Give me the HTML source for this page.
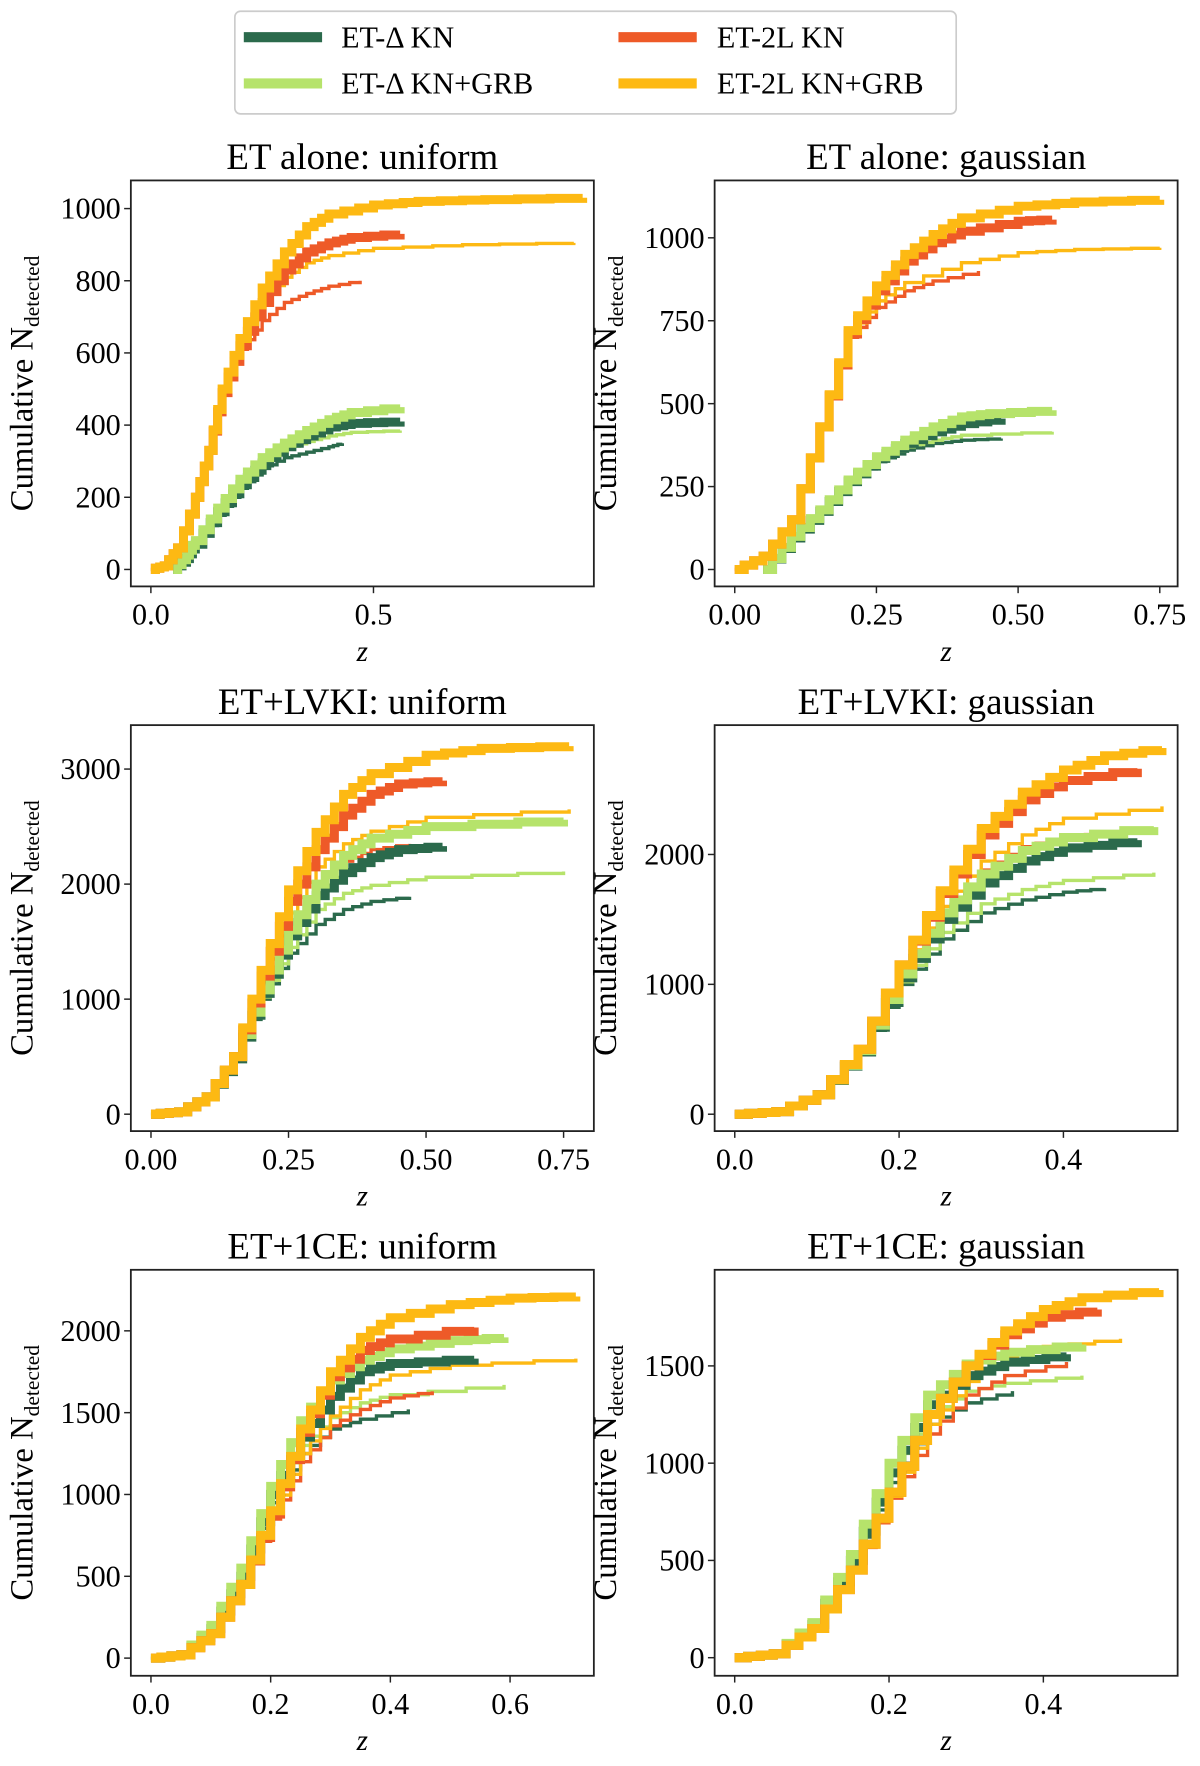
<!DOCTYPE html>
<html><head><meta charset="utf-8">
<style>
html,body{margin:0;padding:0;background:#fff;}
svg{display:block;font-family:"Liberation Serif","DejaVu Serif",serif;}
</style></head>
<body>
<svg id="fig" width="1200" height="1766" viewBox="0 0 1073 1566" preserveAspectRatio="none" xmlns="http://www.w3.org/2000/svg">
<g>
<rect x="210" y="10" width="645" height="91" rx="5" fill="#fff" stroke="#ccc" stroke-width="1.5"/>
<g><line x1="218" y1="33" x2="288" y2="33" stroke="#2b6a4c" stroke-width="9"/><text x="305" y="42" font-size="27">ET-Δ KN</text></g>
<g><line x1="218" y1="74" x2="288" y2="74" stroke="#b6e36b" stroke-width="9"/><text x="305" y="83" font-size="27">ET-Δ KN+GRB</text></g>
<g><line x1="553" y1="33" x2="623" y2="33" stroke="#ee5a28" stroke-width="9"/><text x="641" y="42" font-size="27">ET-2L KN</text></g>
<g><line x1="553" y1="74" x2="623" y2="74" stroke="#fdb913" stroke-width="9"/><text x="641" y="83" font-size="27">ET-2L KN+GRB</text></g>
</g>
</svg>
<script>
const p1_dg_thick=[[0.05,0],[0.08,30],[0.1,70],[0.15,160],[0.2,235],[0.25,295],[0.3,340],[0.35,370],[0.4,395],[0.45,405],[0.56,410]];
const p1_dg_thin=[[0.05,0],[0.08,30],[0.1,65],[0.15,150],[0.2,225],[0.25,280],[0.3,310],[0.35,325],[0.4,340],[0.43,350]];
const p1_lg_thick=[[0.05,0],[0.08,40],[0.1,80],[0.15,170],[0.2,250],[0.25,310],[0.3,350],[0.35,385],[0.4,415],[0.45,435],[0.56,450]];
const p1_lg_thin=[[0.05,0],[0.08,35],[0.1,75],[0.15,160],[0.2,240],[0.25,300],[0.3,335],[0.35,355],[0.4,370],[0.45,380],[0.56,385]];
const p1_rd_thick=[[0,0],[0.03,10],[0.06,60],[0.1,200],[0.13,330],[0.16,490],[0.2,620],[0.25,740],[0.3,830],[0.35,880],[0.4,905],[0.45,920],[0.56,930]];
const p1_rd_thin=[[0,0],[0.03,10],[0.06,60],[0.1,200],[0.13,330],[0.16,490],[0.2,610],[0.25,690],[0.3,740],[0.35,765],[0.4,785],[0.47,800]];
const p1_or_thick=[[0,0],[0.03,10],[0.06,60],[0.1,200],[0.13,330],[0.16,500],[0.2,640],[0.25,780],[0.3,880],[0.35,950],[0.4,985],[0.5,1010],[0.6,1020],[0.75,1025],[0.97,1030]];
const p1_or_thin=[[0,0],[0.03,10],[0.06,60],[0.1,200],[0.13,330],[0.16,500],[0.2,630],[0.25,740],[0.3,810],[0.35,850],[0.4,870],[0.5,890],[0.7,900],[0.95,905]];

const p2_dg_thick=[[0.05,0],[0.1,95],[0.15,175],[0.2,265],[0.25,335],[0.3,380],[0.35,415],[0.4,440],[0.47,455]];
const p2_dg_thin=[[0.05,0],[0.1,95],[0.15,175],[0.2,260],[0.25,325],[0.3,360],[0.35,380],[0.4,390],[0.47,395]];
const p2_lg_thick=[[0.05,0],[0.1,100],[0.15,180],[0.2,270],[0.25,340],[0.3,390],[0.35,430],[0.4,460],[0.45,470],[0.56,480]];
const p2_lg_thin=[[0.05,0],[0.1,100],[0.15,180],[0.2,265],[0.25,330],[0.3,370],[0.35,390],[0.4,405],[0.56,415]];
const p2_rd_thick=[[0,0],[0.05,40],[0.1,150],[0.15,430],[0.2,710],[0.25,840],[0.3,930],[0.35,985],[0.4,1020],[0.5,1050],[0.56,1055]];
const p2_rd_thin=[[0,0],[0.05,40],[0.1,150],[0.15,430],[0.2,700],[0.25,790],[0.3,840],[0.35,870],[0.43,900]];
const p2_or_thick=[[0,0],[0.05,40],[0.1,150],[0.15,430],[0.2,720],[0.25,855],[0.3,950],[0.35,1010],[0.4,1060],[0.5,1095],[0.6,1108],[0.75,1115]];
const p2_or_thin=[[0,0],[0.05,40],[0.1,150],[0.15,430],[0.2,710],[0.25,810],[0.3,865],[0.4,925],[0.5,955],[0.6,965],[0.75,970]];

const p3_dg_thick=[[0,0],[0.05,20],[0.1,150],[0.15,480],[0.2,1050],[0.25,1550],[0.3,1900],[0.35,2100],[0.4,2230],[0.45,2300],[0.53,2330]];
const p3_dg_thin=[[0,0],[0.05,20],[0.1,150],[0.15,470],[0.2,1000],[0.25,1400],[0.3,1650],[0.35,1780],[0.4,1850],[0.47,1890]];
const p3_lg_thick=[[0,0],[0.05,20],[0.1,150],[0.15,500],[0.2,1080],[0.25,1600],[0.3,2000],[0.35,2250],[0.4,2400],[0.5,2500],[0.75,2560]];
const p3_lg_thin=[[0,0],[0.05,20],[0.1,150],[0.15,480],[0.2,1020],[0.25,1450],[0.3,1780],[0.35,1920],[0.4,1990],[0.5,2060],[0.75,2110]];
const p3_rd_thick=[[0,0],[0.05,20],[0.1,150],[0.15,500],[0.2,1200],[0.25,1850],[0.3,2300],[0.35,2600],[0.4,2780],[0.45,2870],[0.53,2900]];
const p3_rd_thin=[[0,0],[0.05,20],[0.1,150],[0.15,490],[0.2,1100],[0.25,1600],[0.3,2000],[0.35,2200],[0.4,2300],[0.47,2350]];
const p3_or_thick=[[0,0],[0.05,20],[0.1,150],[0.15,500],[0.2,1250],[0.25,1950],[0.3,2450],[0.35,2780],[0.4,2960],[0.5,3120],[0.6,3180],[0.76,3200]];
const p3_or_thin=[[0,0],[0.05,20],[0.1,150],[0.15,500],[0.2,1150],[0.25,1750],[0.3,2150],[0.35,2350],[0.4,2460],[0.5,2580],[0.76,2650]];

const p4_dg_thick=[[0,0],[0.05,20],[0.1,150],[0.15,480],[0.2,1050],[0.25,1500],[0.3,1780],[0.35,1950],[0.4,2050],[0.49,2110]];
const p4_dg_thin=[[0,0],[0.05,20],[0.1,150],[0.15,470],[0.2,1000],[0.25,1350],[0.3,1550],[0.35,1650],[0.4,1710],[0.45,1740]];
const p4_lg_thick=[[0,0],[0.05,20],[0.1,150],[0.15,490],[0.2,1080],[0.25,1550],[0.3,1850],[0.35,2030],[0.4,2130],[0.51,2210]];
const p4_lg_thin=[[0,0],[0.05,20],[0.1,150],[0.15,480],[0.2,1020],[0.25,1400],[0.3,1620],[0.35,1730],[0.4,1800],[0.51,1860]];
const p4_rd_thick=[[0,0],[0.05,20],[0.1,150],[0.15,500],[0.2,1150],[0.25,1700],[0.3,2150],[0.35,2420],[0.4,2570],[0.49,2660]];
const p4_rd_thin=[[0,0],[0.05,20],[0.1,150],[0.15,490],[0.2,1080],[0.25,1550],[0.3,1880],[0.35,2060],[0.4,2140],[0.48,2180]];
const p4_or_thick=[[0,0],[0.05,20],[0.1,150],[0.15,500],[0.2,1150],[0.25,1720],[0.3,2200],[0.35,2480],[0.4,2650],[0.45,2760],[0.52,2820]];
const p4_or_thin=[[0,0],[0.05,20],[0.1,150],[0.15,490],[0.2,1100],[0.25,1600],[0.3,1950],[0.35,2150],[0.4,2280],[0.52,2370]];

const p5_dg_thick=[[0,0],[0.05,20],[0.1,180],[0.15,500],[0.2,1000],[0.25,1350],[0.3,1600],[0.35,1750],[0.4,1800],[0.54,1830]];
const p5_dg_thin=[[0,0],[0.05,20],[0.1,170],[0.15,480],[0.2,950],[0.25,1250],[0.3,1400],[0.35,1460],[0.43,1520]];
const p5_lg_thick=[[0,0],[0.05,20],[0.1,200],[0.15,550],[0.2,1050],[0.25,1450],[0.3,1700],[0.35,1820],[0.4,1890],[0.5,1940],[0.59,1960]];
const p5_lg_thin=[[0,0],[0.05,20],[0.1,190],[0.15,520],[0.2,980],[0.25,1300],[0.3,1470],[0.35,1560],[0.4,1610],[0.59,1670]];
const p5_rd_thick=[[0,0],[0.05,20],[0.1,150],[0.15,450],[0.2,880],[0.25,1380],[0.3,1720],[0.35,1880],[0.4,1950],[0.54,2020]];
const p5_rd_thin=[[0,0],[0.05,20],[0.1,150],[0.15,440],[0.2,850],[0.25,1200],[0.3,1420],[0.35,1520],[0.4,1590],[0.47,1630]];
const p5_or_thick=[[0,0],[0.05,20],[0.1,150],[0.15,450],[0.2,900],[0.25,1400],[0.3,1750],[0.35,1960],[0.4,2080],[0.5,2160],[0.6,2200],[0.71,2210]];
const p5_or_thin=[[0,0],[0.05,20],[0.1,150],[0.15,440],[0.2,870],[0.25,1250],[0.3,1480],[0.35,1640],[0.4,1730],[0.5,1790],[0.71,1830]];

const p6_dg_thick=[[0,0],[0.05,20],[0.1,170],[0.15,500],[0.2,950],[0.25,1300],[0.3,1450],[0.35,1520],[0.43,1560]];
const p6_dg_thin=[[0,0],[0.05,20],[0.1,160],[0.15,480],[0.2,900],[0.25,1200],[0.3,1310],[0.36,1370]];
const p6_lg_thick=[[0,0],[0.05,20],[0.1,180],[0.15,530],[0.2,1000],[0.25,1350],[0.3,1510],[0.35,1570],[0.45,1610]];
const p6_lg_thin=[[0,0],[0.05,20],[0.1,170],[0.15,500],[0.2,950],[0.25,1250],[0.3,1370],[0.35,1410],[0.45,1450]];
const p6_rd_thick=[[0,0],[0.05,20],[0.1,150],[0.15,450],[0.2,850],[0.25,1250],[0.3,1500],[0.35,1660],[0.4,1750],[0.47,1790]];
const p6_rd_thin=[[0,0],[0.05,20],[0.1,150],[0.15,440],[0.2,820],[0.25,1150],[0.3,1350],[0.35,1450],[0.43,1520]];
const p6_or_thick=[[0,0],[0.05,20],[0.1,150],[0.15,450],[0.2,850],[0.25,1250],[0.3,1500],[0.35,1680],[0.4,1790],[0.45,1850],[0.55,1890]];
const p6_or_thin=[[0,0],[0.05,20],[0.1,150],[0.15,440],[0.2,830],[0.25,1200],[0.3,1420],[0.35,1540],[0.4,1600],[0.5,1640]];

const p1_xticks=[0,0.5], p1_xlabels=["0.0","0.5"], p1_yticks=[0,200,400,600,800,1000];
const p2_xticks=[0,0.25,0.5,0.75], p2_xlabels=["0.00","0.25","0.50","0.75"], p2_yticks=[0,250,500,750,1000];
const p3_xticks=[0,0.25,0.5,0.75], p3_xlabels=["0.00","0.25","0.50","0.75"], p3_yticks=[0,1000,2000,3000];
const p4_xticks=[0,0.2,0.4], p4_xlabels=["0.0","0.2","0.4"], p4_yticks=[0,1000,2000];
const p5_xticks=[0,0.2,0.4,0.6], p5_xlabels=["0.0","0.2","0.4","0.6"], p5_yticks=[0,500,1000,1500,2000];
const p6_xticks=[0,0.2,0.4], p6_xlabels=["0.0","0.2","0.4"], p6_yticks=[0,500,1000,1500];
const titles=["ET alone: uniform","ET alone: gaussian","ET+LVKI: uniform","ET+LVKI: gaussian","ET+1CE: uniform","ET+1CE: gaussian"];

const NS="http://www.w3.org/2000/svg";
const svg=document.getElementById('fig');
function mk(tag,attrs,parent){const e=document.createElementNS(NS,tag);for(const k in attrs)e.setAttribute(k,attrs[k]);parent.appendChild(e);return e;}

const panels=[
 {x:117,y:160,xd:[-0.045,0.995],yd:[-47,1078],xt:p1_xticks,xl:p1_xlabels,yt:p1_yticks,s:[p1_dg_thick,p1_dg_thin,p1_lg_thick,p1_lg_thin,p1_rd_thick,p1_rd_thin,p1_or_thick,p1_or_thin]},
 {x:639,y:160,xd:[-0.0355,0.7815],yd:[-51,1173],xt:p2_xticks,xl:p2_xlabels,yt:p2_yticks,s:[p2_dg_thick,p2_dg_thin,p2_lg_thick,p2_lg_thin,p2_rd_thick,p2_rd_thin,p2_or_thick,p2_or_thin]},
 {x:117,y:643,xd:[-0.0366,0.805],yd:[-147,3382],xt:p3_xticks,xl:p3_xlabels,yt:p3_yticks,s:[p3_dg_thick,p3_dg_thin,p3_lg_thick,p3_lg_thin,p3_rd_thick,p3_rd_thin,p3_or_thick,p3_or_thin]},
 {x:639,y:643,xd:[-0.0245,0.539],yd:[-130,2996],xt:p4_xticks,xl:p4_xlabels,yt:p4_yticks,s:[p4_dg_thick,p4_dg_thin,p4_lg_thick,p4_lg_thin,p4_rd_thick,p4_rd_thin,p4_or_thick,p4_or_thin]},
 {x:117,y:1126,xd:[-0.0336,0.74],yd:[-108,2373],xt:p5_xticks,xl:p5_xlabels,yt:p5_yticks,s:[p5_dg_thick,p5_dg_thin,p5_lg_thick,p5_lg_thin,p5_rd_thick,p5_rd_thin,p5_or_thick,p5_or_thin]},
 {x:639,y:1126,xd:[-0.026,0.574],yd:[-93,1994],xt:p6_xticks,xl:p6_xlabels,yt:p6_yticks,s:[p6_dg_thick,p6_dg_thin,p6_lg_thick,p6_lg_thin,p6_rd_thick,p6_rd_thin,p6_or_thick,p6_or_thin]}
];
const W=414,H=360;
const colors=["#2b6a4c","#2b6a4c","#b6e36b","#b6e36b","#ee5a28","#ee5a28","#fdb913","#fdb913"];
const widths=[8,3,8,3,8,3,8,3];
const snames=["et-delta-kn","et-delta-kn","et-delta-kn-grb","et-delta-kn-grb","et-2l-kn","et-2l-kn","et-2l-kn-grb","et-2l-kn-grb"];
const order=[1,3,5,7,0,2,4,6];

panels.forEach((p,i)=>{
  const g=mk('g',{},svg);
  
  
  const sx=v=>p.x+(v-p.xd[0])/(p.xd[1]-p.xd[0])*W;
  const sy=v=>p.y+H-(v-p.yd[0])/(p.yd[1]-p.yd[0])*H;
  const t=mk('text',{x:p.x+W/2,y:p.y-10,'font-size':33,'text-anchor':'middle'},g);
  t.textContent=titles[i];
  
  
  order.forEach(k=>{
    const d=p.s[k];
    let path='M'+sx(d[0][0])+','+sy(d[0][1]);
    for(let j=1;j<d.length;j++){
      const z0=d[j-1][0],z1=d[j][0],n0=d[j-1][1],n1=d[j][1];
      const steps=3;
      for(let q=1;q<=steps;q++){
        const zz=z0+(z1-z0)*q/steps, nn=n0+(n1-n0)*q/steps;
        path+=' H'+sx(zz).toFixed(1)+' V'+sy(nn).toFixed(1);
      }
    }
    const pe=mk('path',{d:path,fill:'none',stroke:colors[k],'stroke-width':widths[k],'stroke-linejoin':'miter'},g);
    
    
  });
  const fr=mk('rect',{x:p.x,y:p.y,width:W,height:H,fill:'none',stroke:'#222','stroke-width':1.6},g);
  
  
  p.xt.forEach((v,j)=>{
    const x=sx(v);
    mk('line',{x1:x,y1:p.y+H,x2:x,y2:p.y+H+6,stroke:'#222','stroke-width':1.3},g);
    const tl=mk('text',{x:x,y:p.y+H+34,'font-size':27,'text-anchor':'middle'},g);
    tl.textContent=p.xl[j];
    
    
  });
  p.yt.forEach(v=>{
    const y=sy(v);
    mk('line',{x1:p.x-6,y1:y,x2:p.x,y2:y,stroke:'#222','stroke-width':1.3},g);
    const tl=mk('text',{x:p.x-9,y:y+9,'font-size':27,'text-anchor':'end'},g);
    tl.textContent=String(v);
    
    
  });
  const xl=mk('text',{x:p.x+W/2,y:p.y+H+66,'font-size':26,'font-style':'italic','text-anchor':'middle'},g);
  xl.textContent='z';
  
  
  const cx=p.x-88, cy=p.y+H/2;
  const yl=mk('text',{x:0,y:0,'font-size':29,'text-anchor':'middle',transform:'translate('+cx+','+cy+') rotate(-90)'},g);
  
  
  const t1=mk('tspan',{},yl); t1.textContent='Cumulative N';
  const t2=mk('tspan',{'font-size':19,dy:6}, yl); t2.textContent='detected';
});
</script>
</body></html>
